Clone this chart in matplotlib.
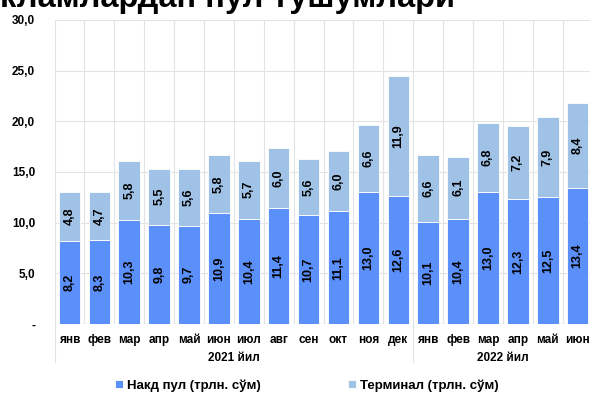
import matplotlib
matplotlib.use("Agg")
from matplotlib import pyplot as plt
from matplotlib.lines import Line2D
import numpy as np

plt.rcParams['font.family'] = ['Liberation Sans', 'DejaVu Sans']

# ойлар ва йиллар
oylar = ['янв', 'фев', 'мар', 'апр', 'май', 'июн', 'июл', 'авг', 'сен', 'окт', 'ноя', 'дек',
         'янв', 'фев', 'мар', 'апр', 'май', 'июн']
yillar = ['2021 йил', '2022 йил']
yil_oylar_soni = [12, 6]

# трлн. сўм
naqd = [8.2, 8.3, 10.3, 9.8, 9.7, 10.9, 10.4, 11.4, 10.7, 11.1, 13.0, 12.6,
        10.1, 10.4, 13.0, 12.3, 12.5, 13.4]
terminal = [4.8, 4.7, 5.8, 5.5, 5.6, 5.8, 5.7, 6.0, 5.6, 6.0, 6.6, 11.9,
            6.6, 6.1, 6.8, 7.2, 7.9, 8.4]

rang_naqd = '#5B8FF9'
rang_term = '#9FC2E6'
grid_rang = '#E3E3E3'


def fmt(v):
    return f'{v:.1f}'.replace('.', ',')


fig = plt.figure(figsize=(5.9, 3.94), dpi=100)
ax = fig.add_axes([0.0924, 0.1777, 0.912, 0.772])

x = np.arange(len(oylar))
b1 = ax.bar(x, naqd, width=0.72, color=rang_naqd, edgecolor='white', linewidth=0.6,
            label='Накд пул (трлн. сўм)', zorder=3)
b2 = ax.bar(x, terminal, width=0.72, bottom=naqd, color=rang_term, edgecolor='white',
            linewidth=0.6, label='Терминал (трлн. сўм)', zorder=3)

for i in range(len(x)):
    ax.text(x[i], naqd[i] / 2, fmt(naqd[i]), rotation=90, ha='center', va='center',
            fontsize=9, fontweight='bold', zorder=4)
    ax.text(x[i], naqd[i] + terminal[i] / 2, fmt(terminal[i]), rotation=90, ha='center',
            va='center', fontsize=9, fontweight='bold', zorder=4)

ax.set_xlim(-0.5, len(x) - 0.5)
ax.set_ylim(0, 30)
ax.set_yticks(np.arange(0, 31, 5))
ax.set_yticklabels(['-'] + [fmt(v) for v in np.arange(5, 31, 5)], fontsize=8.5,
                   fontweight='bold')
ax.set_xticks(x)
ax.set_xticklabels(oylar, fontsize=8.5, fontweight='bold')
ax.set_xticks(np.arange(-0.5, len(x), 1), minor=True)
ax.tick_params(axis='both', which='both', length=0)
ax.tick_params(axis='y', pad=14)
ax.tick_params(axis='x', pad=7)

ax.grid(axis='y', color=grid_rang, linewidth=0.8, zorder=0)
ax.grid(axis='x', which='minor', color=grid_rang, linewidth=0.8, zorder=0)
for s in ax.spines.values():
    s.set_visible(False)
ax.axhline(0, color='#D0D0D0', linewidth=0.8, zorder=2)

# йил белгилари ва ажратувчи чизиқлар
tr = ax.get_xaxis_transform()
chegara = -0.5
for yil, n in zip(yillar, yil_oylar_soni):
    ax.add_line(Line2D([chegara, chegara], [0, -0.125], transform=tr, color=grid_rang,
                       linewidth=0.8, clip_on=False))
    ax.text(chegara + n / 2, -0.112, yil, transform=tr, ha='center', va='center',
            fontsize=8.5, fontweight='bold')
    chegara += n
ax.add_line(Line2D([chegara, chegara], [0, -0.125], transform=tr, color=grid_rang,
                   linewidth=0.8, clip_on=False))

fig.text(0.0, 0.981, 'кламлардан пул тушумлари', fontsize=23.5, fontweight='bold',
         ha='left', va='baseline')

fig.legend(handles=[b1, b2], loc='center', bbox_to_anchor=(0.52, 0.022), ncol=2,
           frameon=False, prop={'weight': 'bold', 'size': 9.5},
           handlelength=0.6, handleheight=0.6, handletextpad=0.3, columnspacing=6.6)

fig.savefig('out.png', dpi=100)
